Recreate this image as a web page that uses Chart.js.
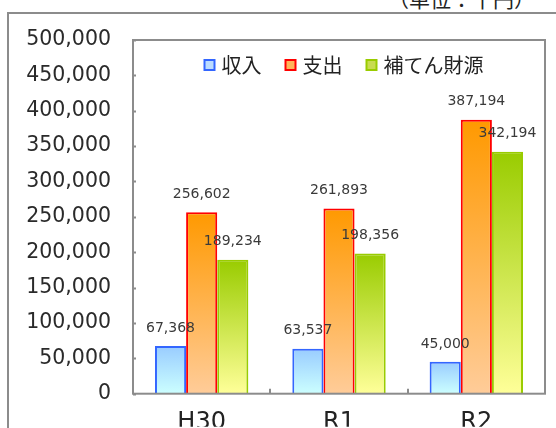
<!DOCTYPE html>
<html>
<head>
<meta charset="utf-8">
<script src="https://cdn.jsdelivr.net/npm/chart.js@4.4.1/dist/chart.umd.min.js"></script>
<style>
    html, body { margin: 0; padding: 0; background: #fff; overflow: hidden; }
    #wrap { position: relative; width: 556px; height: 428px; overflow: hidden; }
    #frame { position: absolute; left: 7px; top: 12px; width: 700px; height: 600px; border: 2px solid #8c8c8c; }
    #unit { position: absolute; left: 388px; top: -12px; font: 21px "Noto Sans CJK JP"; line-height: 21px; color: #222; white-space: nowrap; }
    canvas { position: absolute; left: 0; top: 0; }
</style>
</head>
<body>
<div id="wrap">
    <div id="frame"></div>
    <div id="unit">（単位：千円）</div>
    <canvas id="budgetChart" width="556" height="428"></canvas>
</div>
<script>
const categories = ['H30', 'R1', 'R2'];
const seriesNames = ['収入', '支出', '補てん財源'];
const income = [67368, 63537, 45000];
const expense = [256602, 261893, 387194];
const supplement = [189234, 198356, 342194];
const yMax = 500000;
const yStep = 50000;

// per-bar vertical gradient, top colour -> bottom colour
function barFill(topColor, bottomColor) {
    return function (context) {
        const chart = context.chart;
        if (!chart.chartArea || context.raw == null) return bottomColor;
        const y = chart.scales.y;
        const g = chart.ctx.createLinearGradient(0, y.getPixelForValue(context.raw), 0, y.getPixelForValue(0));
        g.addColorStop(0, topColor);
        g.addColorStop(1, bottomColor);
        return g;
    };
}

const legendFills = ['#bcdcff', '#ffb45a', '#c8dc50'];
const borderColors = ['#3366ff', '#ff0000', '#99cc00'];

const framePlugin = {
    id: 'frame',
    afterDatasetsDraw(chart) {
        const ctx = chart.ctx;
        ctx.save();
        ctx.font = '14px "DejaVu Sans"';
        ctx.fillStyle = '#3a3a3a';
        ctx.textAlign = 'center';
        ctx.textBaseline = 'middle';
        chart.data.datasets.forEach((ds, di) => {
            chart.getDatasetMeta(di).data.forEach((bar, i) => {
                ctx.fillText(ds.data[i].toLocaleString('en-US'), bar.x, bar.y - 18);
            });
        });
        ctx.restore();
    },
    afterDraw(chart) {
        const ctx = chart.ctx;
        const a = chart.chartArea;
        const y = chart.scales.y;
        const x = chart.scales.x;
        ctx.save();
        ctx.strokeStyle = '#8c8c8c';
        ctx.lineWidth = 2;
        ctx.strokeRect(a.left, a.top, a.right - a.left, a.bottom - a.top);
        ctx.beginPath();
        y.ticks.forEach(t => {
            const py = Math.round(y.getPixelForValue(t.value)) + 0.5;
            ctx.moveTo(a.left, py);
            ctx.lineTo(a.left + 3, py);
        });
        for (let i = 1; i < categories.length; i++) {
            const px = Math.round((x.getPixelForTick(i - 1) + x.getPixelForTick(i)) / 2);
            ctx.moveTo(px, a.bottom);
            ctx.lineTo(px, a.bottom - 5);
        }
        ctx.stroke();

        // legend across the top of the plot area
        ctx.font = '20px "Noto Sans CJK JP"';
        ctx.textBaseline = 'middle';
        ctx.textAlign = 'left';
        const box = 10, gap = 7, itemGap = 24;
        const widths = seriesNames.map(s => ctx.measureText(s).width);
        const total = widths.reduce((s, w) => s + w, 0) + seriesNames.length * (box + gap) + (seriesNames.length - 1) * itemGap;
        let lx = (a.left + a.right) / 2 + 5 - total / 2;
        const ly = a.top + 25;
        seriesNames.forEach((name, i) => {
            ctx.fillStyle = legendFills[i];
            ctx.fillRect(lx, ly - box / 2, box, box);
            ctx.strokeStyle = borderColors[i];
            ctx.lineWidth = 2;
            ctx.strokeRect(lx, ly - box / 2, box, box);
            ctx.fillStyle = '#222';
            ctx.fillText(name, lx + box + gap, ly);
            lx += box + gap + widths[i] + itemGap;
        });
        ctx.restore();
    }
};

const config = {
    type: 'bar',
    data: {
        labels: categories,
        datasets: [
            {
                label: seriesNames[0],
                data: income,
                backgroundColor: barFill('#99ccff', '#ccffff'),
                borderColor: borderColors[0],
                borderWidth: 2
            },
            {
                label: seriesNames[1],
                data: expense,
                backgroundColor: barFill('#ff9900', '#ffcc99'),
                borderColor: borderColors[1],
                borderWidth: 2
            },
            {
                label: seriesNames[2],
                data: supplement,
                backgroundColor: barFill('#99cc00', '#ffff99'),
                borderColor: borderColors[2],
                borderWidth: 2
            }
        ]
    },
    options: {
        responsive: false,
        animation: false,
        devicePixelRatio: 1,
        categoryPercentage: 0.68,
        barPercentage: 1.0,
        layout: {
            padding: { top: 40, right: 11, bottom: 0, left: 0 }
        },
        scales: {
            x: {
                afterFit: function (scale) { scale.height = 33; },
                grid: { display: false },
                border: { display: false },
                ticks: {
                    padding: 7,
                    color: '#222',
                    font: { family: 'DejaVu Sans', size: 24 }
                }
            },
            y: {
                min: 0,
                max: yMax,
                afterFit: function (scale) { scale.width = 133; },
                grid: { display: false, drawTicks: false },
                border: { display: false },
                ticks: {
                    stepSize: yStep,
                    padding: 22,
                    color: '#2a2a2a',
                    font: { family: 'DejaVu Sans', size: 20.5 },
                    callback: function (value) {
                        return value.toLocaleString('en-US');
                    }
                }
            }
        },
        plugins: {
            legend: { display: false },
            tooltip: { enabled: false }
        }
    },
    plugins: [framePlugin]
};

new Chart(document.getElementById('budgetChart').getContext('2d'), config);
</script>
</body>
</html>
